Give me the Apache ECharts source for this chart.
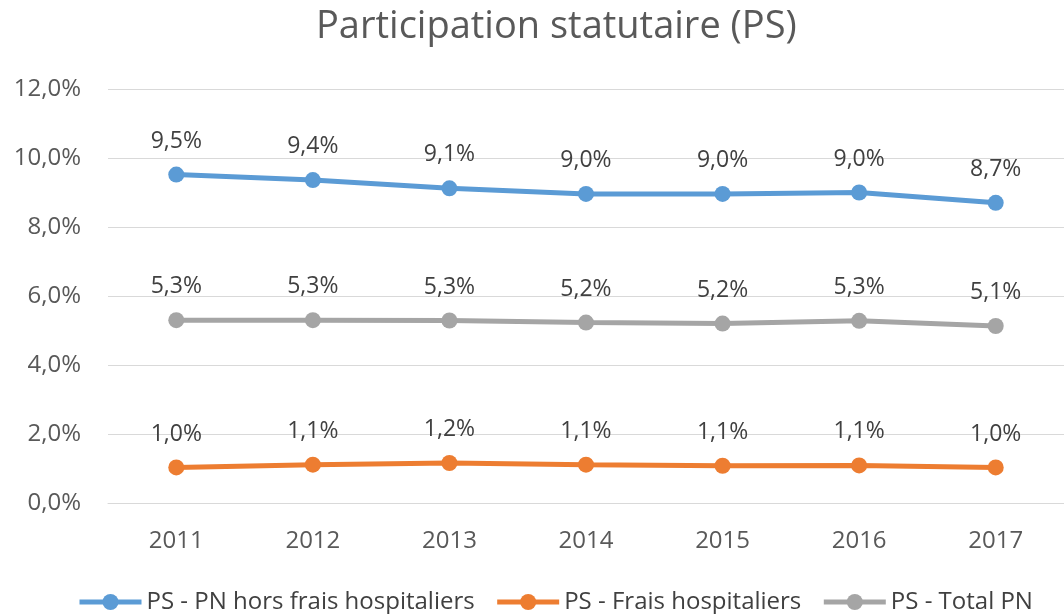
<!DOCTYPE html>
<html>
<head>
<meta charset="utf-8">
<script src="https://cdn.jsdelivr.net/npm/echarts@6/dist/echarts.min.js"></script>
<style>html,body{margin:0;padding:0;background:#fff}#c{width:1064px;height:614px}</style>
</head>
<body>
<div id="c"></div>
<script>
var categories = ['2011','2012','2013','2014','2015','2016','2017'];
var seriesNames = ['PS - PN hors frais hospitaliers','PS - Frais hospitaliers','PS - Total PN'];
var pnHorsFrais = [9.52, 9.36, 9.12, 8.96, 8.96, 9.0, 8.7];
var fraisHosp = [1.03, 1.11, 1.16, 1.11, 1.08, 1.09, 1.03];
var totalPN = [5.3, 5.3, 5.29, 5.23, 5.2, 5.28, 5.13];
var yTicks = {min: 0, max: 12, interval: 2};

var FONT = 'Open Sans';
function pct(v){ return v.toFixed(1).replace('.', ',') + '%'; }
function mk(name, data, color){
  return {
    name: name, type: 'line', data: data,
    symbol: 'circle', symbolSize: 16,
    lineStyle: {color: color, width: 5},
    itemStyle: {color: color},
    label: {show: true, position: 'top', distance: 14, color: '#404040',
            fontFamily: FONT, fontSize: 23,
            formatter: function(p){ return pct(p.value); }},
    emphasis: {disabled: true}
  };
}
var chart = echarts.init(document.getElementById('c'), null, {renderer: 'canvas'});
chart.setOption({
  animation: false,
  backgroundColor: '#ffffff',
  title: {text: 'Participation statutaire (PS)', left: 311, top: 3,
    textStyle: {fontFamily: FONT, fontSize: 38, fontWeight: 'normal', color: '#595959'}},
  legend: {bottom: -5, left: 72, itemWidth: 62, itemHeight: 20, itemGap: 20,
    lineStyle: {width: 5},
    textStyle: {fontFamily: FONT, fontSize: 24, color: '#404040'},
    data: seriesNames},
  grid: {left: 108, top: 89, width: 970, bottom: 111, containLabel: false},
  xAxis: {type: 'category', data: categories, boundaryGap: true,
    axisLine: {show: true, lineStyle: {color: '#D9D9D9', width: 1}},
    axisTick: {show: false},
    axisLabel: {color: '#595959', fontFamily: FONT, fontSize: 24, margin: 26}},
  yAxis: {type: 'value', min: yTicks.min, max: yTicks.max, interval: yTicks.interval,
    axisLine: {show: false}, axisTick: {show: false},
    splitLine: {lineStyle: {color: '#D9D9D9', width: 1}},
    axisLabel: {color: '#595959', fontFamily: FONT, fontSize: 24, margin: 27,
      formatter: function(v){ return pct(v); }}},
  series: [
    mk(seriesNames[0], pnHorsFrais, '#5B9BD5'),
    mk(seriesNames[1], fraisHosp, '#ED7D31'),
    mk(seriesNames[2], totalPN, '#A5A5A5')
  ]
});
</script>
</body>
</html>
